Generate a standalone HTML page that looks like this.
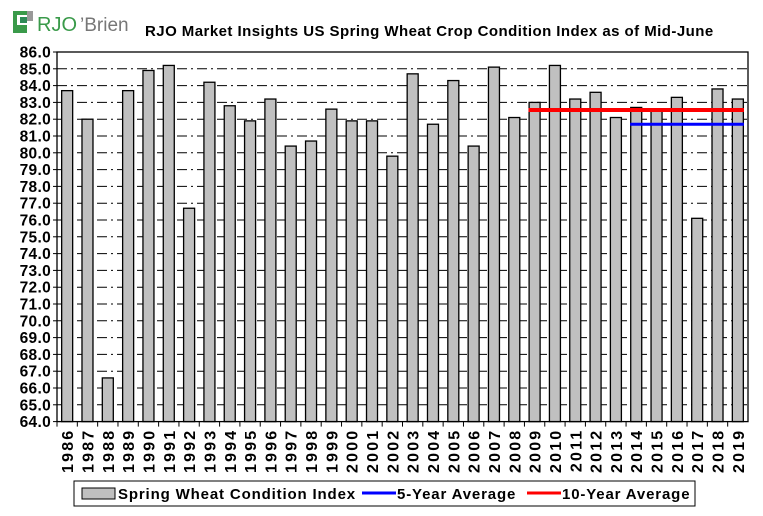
<!DOCTYPE html>
<html><head><meta charset="utf-8"><style>
html,body{margin:0;padding:0;background:#fff;width:763px;height:516px;overflow:hidden}
svg{display:block;font-family:"Liberation Sans",Arial,sans-serif}
</style></head><body>
<svg id="c" width="763" height="516" viewBox="0 0 763 516">
  <g>
    <rect x="13" y="11" width="14" height="22" fill="#3a9a4a"/>
    <rect x="17" y="15" width="10" height="10" fill="#fff"/>
    <rect x="27" y="11" width="6" height="10" fill="#999"/>
    <rect x="20" y="17" width="7" height="6" fill="#2e8b57"/>
    <text x="37" y="31" font-size="20" fill="#3a9a4a">RJO</text>
    <text x="80" y="31" font-size="19" fill="#777">’Brien</text>
  </g>
  <text x="145" y="36" font-size="15" font-weight="bold" letter-spacing="0.45" fill="#000">RJO Market Insights US Spring Wheat Crop Condition Index as of Mid-June</text>
  <g id="grid"></g>
  <g id="bars"></g>
  <g id="lines"></g>
  <rect x="57" y="52" width="691" height="369.6" fill="none" stroke="#000" stroke-width="1.3"/>
  <g id="yax"></g>
  <g id="xax"></g>
  <g>
    <rect x="74" y="481" width="621" height="25" fill="#fff" stroke="#000"/>
    <rect x="82" y="488" width="33" height="11" fill="#c0c0c0" stroke="#000"/>
    <text x="118" y="499" font-size="15" font-weight="bold" letter-spacing="0.85">Spring Wheat Condition Index</text>
    <line x1="362" y1="493" x2="396" y2="493" stroke="#0000ff" stroke-width="3"/>
    <text x="397" y="499" font-size="15" font-weight="bold" letter-spacing="0.85">5-Year Average</text>
    <line x1="527" y1="493" x2="561" y2="493" stroke="#ff0000" stroke-width="3"/>
    <text x="562" y="499" font-size="15" font-weight="bold" letter-spacing="0.85">10-Year Average</text>
  </g>
</svg>
<script>
const years=[1986,1987,1988,1989,1990,1991,1992,1993,1994,1995,1996,1997,1998,1999,2000,2001,2002,2003,2004,2005,2006,2007,2008,2009,2010,2011,2012,2013,2014,2015,2016,2017,2018,2019];
const values=[83.7,82.0,66.6,83.7,84.9,85.2,76.7,84.2,82.8,81.9,83.2,80.4,80.7,82.6,81.9,81.9,79.8,84.7,81.7,84.3,80.4,85.1,82.1,83.0,85.2,83.2,83.6,82.1,82.7,82.5,83.3,76.1,83.8,83.2];
const yTicks=[64,65,66,67,68,69,70,71,72,73,74,75,76,77,78,79,80,81,82,83,84,85,86];
const avg5=[81.7];
const avg5Range=[2014,2019];
const avg10=[82.55];
const avg10Range=[2009,2019];
const NS='http://www.w3.org/2000/svg';
const L=57,R=748,T=52,B=421.6,yMin=64,yMax=86;
const bw=(R-L)/years.length;
function y(v){return B-(v-yMin)/(yMax-yMin)*(B-T);}
function xc(yr){return L+(years.indexOf(yr)+0.5)*bw;}
function mk(tag,at,parent){const e=document.createElementNS(NS,tag);for(const k in at)e.setAttribute(k,at[k]);document.getElementById(parent).appendChild(e);return e;}
yTicks.forEach(t=>{
  if(t>yMin&&t<yMax){const g=mk('line',{x1:L,x2:R,y1:y(t),y2:y(t),stroke:'#000','stroke-width':1,'stroke-dasharray':'10,4,2,4'},'grid');
  
  }
  const tk=mk('line',{x1:L-4,x2:L,y1:y(t),y2:y(t),stroke:'#000'},'yax');
  
  
  const tx=mk('text',{x:L-6,y:y(t)+5.5,'text-anchor':'end','font-size':15.5,'font-weight':'bold','letter-spacing':0.3},'yax');
  tx.textContent=t.toFixed(1);
  
  
});
years.forEach((yr,i)=>{
  const cx=xc(yr);
  const r=mk('rect',{x:cx-5.5,y:y(values[i]),width:11,height:B-y(values[i]),fill:'#c0c0c0',stroke:'#000','stroke-width':1.3},'bars');
  
  
  const tk=mk('line',{x1:L+i*bw,x2:L+i*bw,y1:B,y2:B+5,stroke:'#000'},'xax');
  
  
  const tx=mk('text',{x:0,y:0,'text-anchor':'end','font-size':16,'font-weight':'bold','letter-spacing':2.2,transform:`translate(${cx+6},${B+7}) rotate(-90)`},'xax');
  tx.textContent=yr;
  
  
});
const l10=mk('line',{x1:xc(avg10Range[0])-0.3*bw,x2:xc(avg10Range[1])+0.3*bw,y1:y(avg10[0]),y2:y(avg10[0]),stroke:'#ff0000','stroke-width':4},'lines');


const l5=mk('line',{x1:xc(avg5Range[0])-0.3*bw,x2:xc(avg5Range[1])+0.3*bw,y1:y(avg5[0]),y2:y(avg5[0]),stroke:'#0000ff','stroke-width':3},'lines');


</script>
</body></html>
